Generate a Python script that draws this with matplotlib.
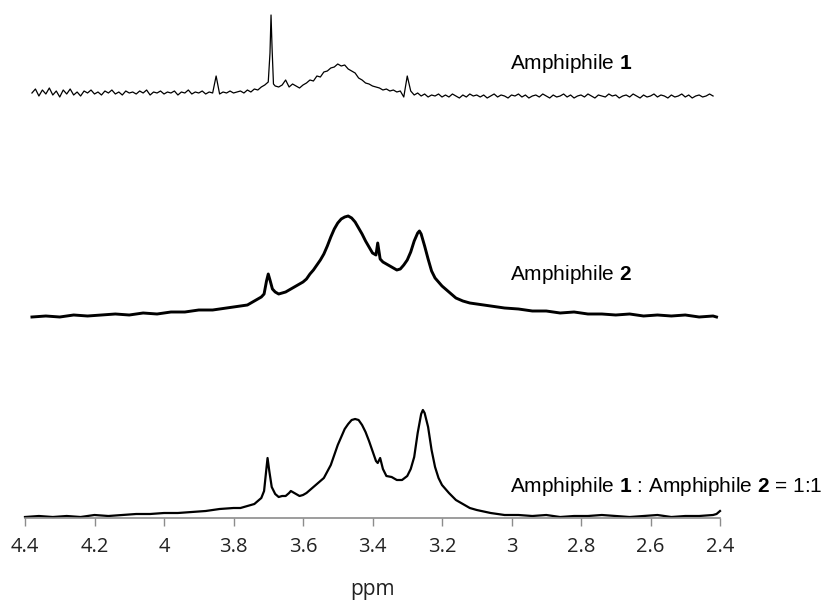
import matplotlib
matplotlib.use("Agg")
import matplotlib.pyplot as plt

# 1H NMR, three stacked spectra (ppm vs intensity above each baseline)
ppm1 = [4.38, 4.37, 4.36, 4.35, 4.34, 4.33, 4.32, 4.31, 4.30, 4.29,
        4.28, 4.27, 4.26, 4.25, 4.24, 4.23, 4.22, 4.21, 4.20, 4.19,
        4.18, 4.17, 4.16, 4.15, 4.14, 4.13, 4.12, 4.11, 4.10, 4.09,
        4.08, 4.07, 4.06, 4.05, 4.04, 4.03, 4.02, 4.01, 4.00, 3.99,
        3.98, 3.97, 3.96, 3.95, 3.94, 3.93, 3.92, 3.91, 3.90, 3.89,
        3.88, 3.87, 3.86, 3.85, 3.84, 3.83, 3.82, 3.81, 3.80, 3.79,
        3.78, 3.77, 3.76, 3.75, 3.74, 3.73, 3.72, 3.71,
        3.70, 3.695, 3.692, 3.689, 3.685, 3.68,
        3.67, 3.66, 3.65, 3.64, 3.63, 3.62, 3.61, 3.60,
        3.59, 3.58, 3.57, 3.56, 3.55, 3.54, 3.53, 3.52, 3.51, 3.50,
        3.49, 3.48, 3.47, 3.46, 3.45, 3.44, 3.43, 3.42, 3.41, 3.40,
        3.39, 3.38, 3.37, 3.36, 3.35, 3.34, 3.33, 3.32, 3.31, 3.30,
        3.29, 3.28, 3.27, 3.26, 3.25, 3.24, 3.23, 3.22, 3.21, 3.20,
        3.19, 3.18, 3.17, 3.16, 3.15, 3.14, 3.13, 3.12, 3.11, 3.10,
        3.09, 3.08, 3.07, 3.06, 3.05, 3.04, 3.03, 3.02, 3.01, 3.00,
        2.99, 2.98, 2.97, 2.96, 2.95, 2.94, 2.93, 2.92, 2.91, 2.90,
        2.89, 2.88, 2.87, 2.86, 2.85, 2.84, 2.83, 2.82, 2.81, 2.80,
        2.79, 2.78, 2.77, 2.76, 2.75, 2.74, 2.73, 2.72, 2.71, 2.70,
        2.69, 2.68, 2.67, 2.66, 2.65, 2.64, 2.63, 2.62, 2.61, 2.60,
        2.59, 2.58, 2.57, 2.56, 2.55, 2.54, 2.53, 2.52, 2.51, 2.50,
        2.49, 2.48, 2.47, 2.46, 2.45, 2.44, 2.43, 2.42]
amp1 = [5, 9, 2, 8, 4, 10, 3, 7, 1, 8,
        4, 9, 3, 6, 2, 7, 5, 8, 4, 6,
        3, 7, 5, 8, 4, 6, 3, 7, 5, 6,
        4, 7, 5, 8, 3, 6, 5, 7, 4, 6,
        5, 7, 3, 6, 5, 8, 4, 6, 5, 7,
        4, 6, 5, 22, 4, 6, 5, 7, 5, 6,
        7, 5, 8, 6, 9, 8, 11, 13,
        16, 45, 83, 50, 14, 12,
        11, 13, 18, 11, 14, 12, 10, 13,
        15, 18, 17, 22, 21, 26, 27, 30, 31, 34,
        32, 33, 29, 27, 25, 20, 18, 15, 14, 12,
        11, 10, 8, 9, 7, 8, 6, 7, 1, 22,
        7, 3, 5, 2, 4, 1, 3, 2, 4, 1,
        3, 1, 4, 2, 0, 3, 1, 4, 2, 3,
        1, 3, 0, 2, 4, 1, 3, 2, 0, 3,
        2, 4, 1, 3, 0, 2, 3, 1, 4, 2,
        0, 3, 1, 2, 4, 1, 3, 0, 2, 3,
        1, 4, 2, 0, 3, 2, 1, 4, 2, 3,
        0, 2, 3, 1, 4, 2, 0, 3, 1, 2,
        4, 1, 3, 2, 0, 3, 1, 2, 4, 1,
        3, 0, 2, 3, 1, 2, 4, 2]

ppm2 = [4.38, 4.34, 4.30, 4.26, 4.22, 4.18, 4.14, 4.10, 4.06, 4.02,
        3.98, 3.94, 3.90, 3.86, 3.82, 3.78, 3.76, 3.74, 3.72, 3.712,
        3.705, 3.700, 3.695, 3.688, 3.68, 3.67, 3.66, 3.65, 3.64, 3.63,
        3.62, 3.61, 3.60, 3.59, 3.58, 3.57, 3.56, 3.55, 3.54, 3.53,
        3.52, 3.51, 3.50, 3.49, 3.48, 3.47, 3.46, 3.45, 3.44, 3.43,
        3.42, 3.41, 3.40, 3.39, 3.385, 3.378, 3.37, 3.36, 3.35, 3.34,
        3.33, 3.32, 3.31, 3.30, 3.29, 3.28, 3.27, 3.265, 3.26, 3.25,
        3.24, 3.23, 3.22, 3.21, 3.20, 3.18, 3.16, 3.14, 3.12, 3.10,
        3.06, 3.02, 2.98, 2.94, 2.90, 2.86, 2.82, 2.78, 2.74, 2.70,
        2.66, 2.62, 2.58, 2.54, 2.50, 2.46, 2.42, 2.41]
amp2 = [0, 1, 0, 2, 1, 2, 3, 2, 4, 3,
        5, 5, 7, 7, 9, 11, 12, 16, 20, 23,
        36, 43, 37, 28, 25, 23, 24, 25, 27, 29,
        31, 33, 35, 38, 43, 47, 52, 57, 63, 71,
        80, 88, 94, 98, 100, 101, 99, 95, 89, 83,
        76, 70, 64, 62, 74, 58, 55, 53, 51, 49,
        47, 48, 52, 57, 65, 76, 84, 86, 83, 71,
        58, 46, 39, 35, 31, 25, 19, 16, 14, 13,
        11, 9, 8, 6, 6, 4, 5, 3, 3, 2,
        3, 1, 2, 1, 2, 0, 1, 0]

ppm3 = [4.40, 4.36, 4.32, 4.28, 4.24, 4.20, 4.16, 4.12, 4.08, 4.04,
        4.00, 3.96, 3.92, 3.88, 3.84, 3.80, 3.78, 3.76, 3.74, 3.72,
        3.712, 3.706, 3.702, 3.697, 3.69, 3.68, 3.67, 3.66, 3.65, 3.64,
        3.635, 3.62, 3.61, 3.60, 3.59, 3.58, 3.56, 3.54, 3.52, 3.50,
        3.48, 3.47, 3.46, 3.45, 3.44, 3.43, 3.42, 3.41, 3.40, 3.39,
        3.385, 3.378, 3.37, 3.36, 3.345, 3.33, 3.315, 3.30, 3.29, 3.28,
        3.27, 3.26, 3.255, 3.25, 3.24, 3.23, 3.22, 3.21, 3.20, 3.18,
        3.16, 3.14, 3.12, 3.10, 3.06, 3.02, 2.98, 2.94, 2.90, 2.86,
        2.82, 2.78, 2.74, 2.70, 2.66, 2.62, 2.58, 2.54, 2.50, 2.46,
        2.42, 2.41, 2.40]
amp3 = [0, 1, 0, 1, 0, 2, 1, 2, 3, 3,
        4, 4, 5, 6, 8, 9, 9, 11, 13, 19,
        26, 46, 59, 46, 30, 23, 20, 21, 21, 24,
        26, 23, 21, 22, 24, 27, 33, 39, 52, 72,
        88, 93, 97, 98, 97, 92, 85, 76, 66, 56,
        54, 59, 48, 41, 40, 37, 37, 41, 48, 60,
        84, 103, 107, 104, 90, 67, 50, 39, 32, 24,
        17, 13, 9, 7, 4, 2, 2, 1, 2, 0,
        1, 1, 2, 1, 0, 1, 2, 0, 1, 1,
        2, 3, 6]

xticks = [4.4, 4.2, 4.0, 3.8, 3.6, 3.4, 3.2, 3.0, 2.8, 2.6, 2.4]
xtick_labels = ["4.4", "4.2", "4", "3.8", "3.6", "3.4", "3.2", "3", "2.8", "2.6", "2.4"]

plt.rcParams['font.family'] = ['Liberation Sans', 'DejaVu Sans']
plt.rcParams['mathtext.fontset'] = 'custom'
plt.rcParams['mathtext.rm'] = 'Liberation Sans'
plt.rcParams['mathtext.bf'] = 'Liberation Sans:bold'

fig = plt.figure(figsize=(8.3, 6.04), dpi=100)
ax = fig.add_axes([25 / 830, 86 / 604, 695 / 830, 518 / 604])

# stacking offsets (axis units = pixels above the x axis)
off1, off2, off3 = 420, 201, 1
ax.plot(ppm1, [v + off1 for v in amp1], color='black', lw=0.9, clip_on=False)
ax.plot(ppm2, [v + off2 for v in amp2], color='black', lw=2.1, clip_on=False)
ax.plot(ppm3, [v + off3 for v in amp3], color='black', lw=1.6, clip_on=False)

ax.text(3.004, 449, r"Amphiphile $\mathbf{1}$", fontsize=15, va='baseline')
ax.text(3.004, 238, r"Amphiphile $\mathbf{2}$", fontsize=15, va='baseline')
ax.text(3.004, 26, r"Amphiphile $\mathbf{1}$ : Amphiphile $\mathbf{2}$ = 1:1",
        fontsize=15, va='baseline')

ax.set_xlim(4.4, 2.4)
ax.set_ylim(0, 518)
ax.set_xticks(xticks)
ax.set_xticklabels(xtick_labels, fontfamily='Open Sans', fontsize=14.5, color='#222222')
ax.tick_params(axis='x', direction='out', length=6, width=1, color='#8c8c8c', pad=8)
ax.set_yticks([])
for s in ['left', 'right', 'top']:
    ax.spines[s].set_visible(False)
ax.spines['bottom'].set_color('#8c8c8c')
ax.spines['bottom'].set_linewidth(1.2)

fig.text(372 / 830, 1 - 590 / 604, "ppm", fontfamily='Open Sans', fontsize=15,
         color='#222222', ha='center', va='center')

plt.savefig("out.png", dpi=100)
plt.close()
